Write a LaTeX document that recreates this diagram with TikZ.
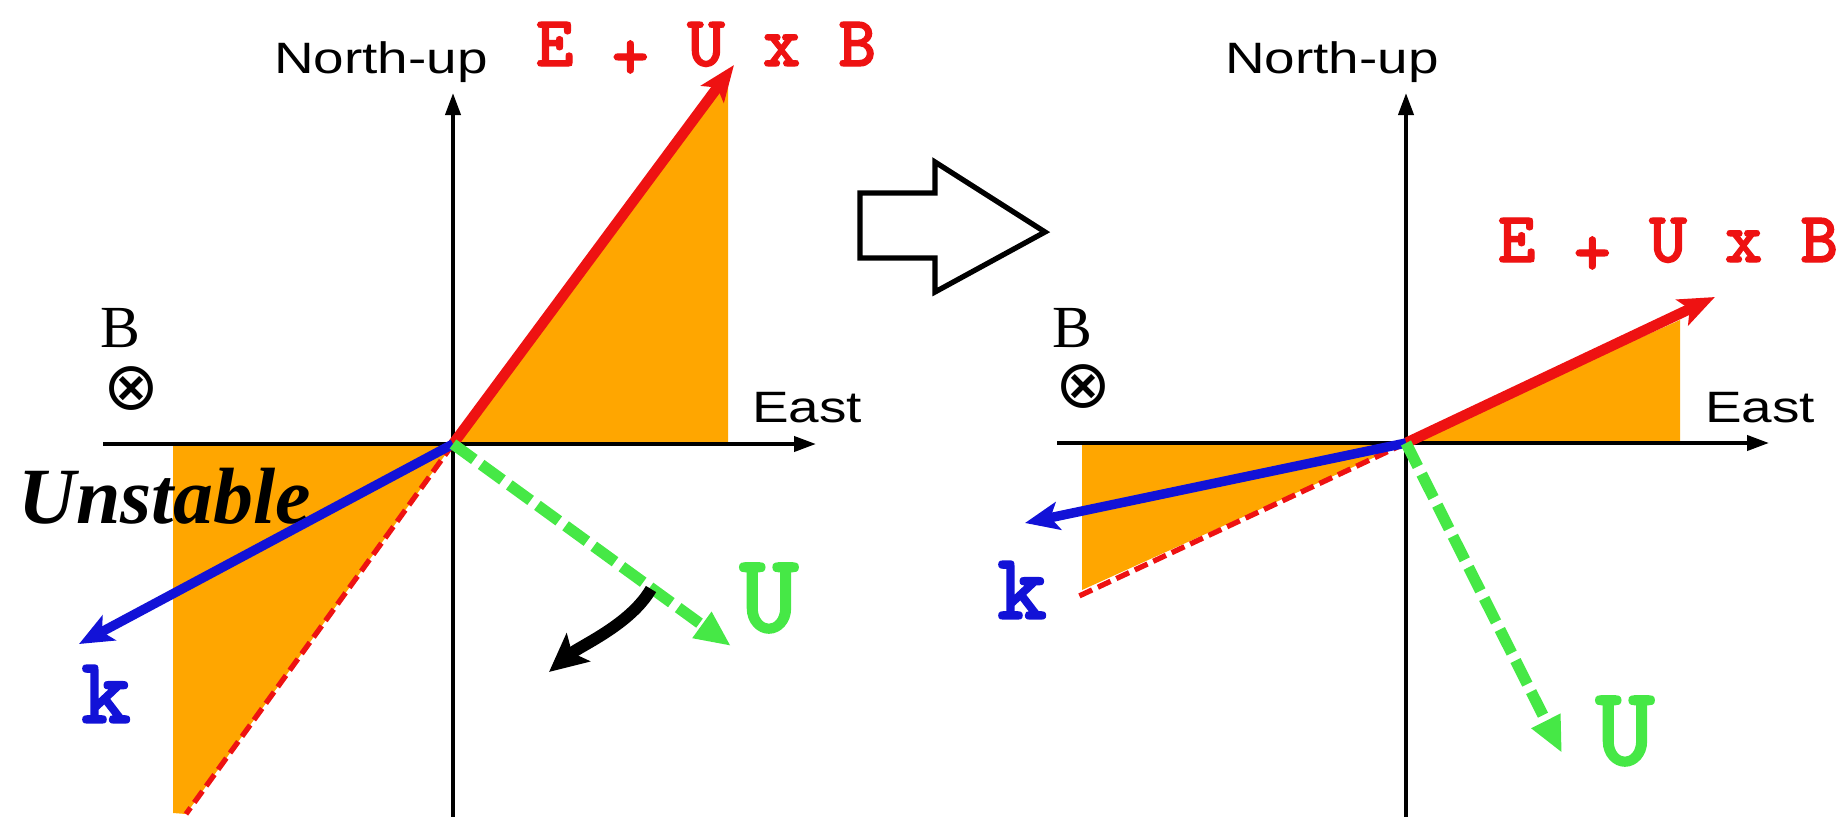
\documentclass[tikz,border=0pt]{standalone}
\usepackage{amsmath}
\usepackage{fontspec}
\setmainfont{Liberation Serif}
\newfontfamily\axisfont[FakeStretch=1.25]{Liberation Sans}
\newfontfamily\symfont{DejaVu Sans}
\newfontfamily\vecfont[FakeBold=1.5]{lmmonolt10-bold.otf}
\usepackage{tikz}
\usepackage{xcolor}
\usetikzlibrary{arrows.meta,positioning}

\definecolor{vred}{RGB}{238,18,18}
\definecolor{vorange}{RGB}{255,166,0}
\definecolor{vblue}{RGB}{18,18,215}
\definecolor{vgreen}{RGB}{70,232,70}

\begin{document}
\begin{tikzpicture}[
    axis/.style={line width=1.1pt, -{Triangle[length=2.2mm,width=1.5mm]}},
    efield/.style={draw=vred, line width=3pt, -{Stealth[length=3.6mm,width=2.8mm,inset=0.8mm]}},
    mirror/.style={draw=vred, line width=1.5pt, dash pattern=on 4pt off 1.8pt},
    wavevec/.style={draw=vblue, line width=2.7pt, -{Stealth[length=3.4mm,width=2.8mm,inset=0.8mm]}},
    wind/.style={draw=vgreen, line width=3.2pt, dash pattern=on 7.5pt off 2.4pt, -{Triangle[length=3.6mm,width=3mm]}},
    turn/.style={draw=black, line width=3.4pt, -{Stealth[length=3.8mm,width=3.6mm,inset=0.8mm]}},
    wedge/.style={fill=vorange},
    axlabel/.style={inner sep=0pt, anchor=base, font={\axisfont\fontsize{12.5}{14}\selectfont}},
    exblabel/.style={inner sep=0pt, anchor=base, text=vred, font={\vecfont\fontsize{20.5}{22}\selectfont}},
    blabel/.style={inner sep=0pt, anchor=base, font={\fontsize{17}{19}\selectfont}},
    bsym/.style={inner sep=0pt, font={\symfont\fontsize{19}{22}\selectfont}},
    klabel/.style={inner sep=0pt, text=vblue, font={\vecfont\fontsize{27}{30}\selectfont}},
    ulabel/.style={inner sep=0pt, text=vgreen, font={\vecfont\fontsize{32}{34}\selectfont}}
]
\useasboundingbox (0,0) rectangle (18.44,-8.17);

% Left panel: axes and vector ends
\coordinate (o_l) at (4.53,-4.44);
\coordinate (n_l) at (4.53,-0.93);
\coordinate (s_l) at (4.53,-8.17);
\coordinate (w_l) at (1.03,-4.44);
\coordinate (e_l) at (8.16,-4.44);
\coordinate (exb_l) at (7.34,-0.65);
\coordinate (mir_l) at (1.86,-8.14);
\coordinate (k_l) at (0.79,-6.44);
\coordinate (u_l) at (7.31,-6.46);
\coordinate (turn_a) at (6.51,-5.89);
\coordinate (turn_b) at (5.49,-6.72);

% Right panel: axes and vector ends
\coordinate (o_r) at (14.06,-4.43);
\coordinate (n_r) at (14.06,-0.93);
\coordinate (s_r) at (14.06,-8.17);
\coordinate (w_r) at (10.57,-4.43);
\coordinate (e_r) at (17.69,-4.43);
\coordinate (exb_r) at (17.15,-2.97);
\coordinate (mir_r) at (10.77,-5.97);
\coordinate (k_r) at (10.25,-5.23);
\coordinate (u_r) at (15.62,-7.53);

% Shaded wedges
\fill[wedge] (o_l) -- (7.28,-4.44) -- (7.28,-0.78) -- cycle;
\fill[wedge] (o_l) -- (1.73,-4.44) -- (1.73,-8.13) -- (1.86,-8.14) -- cycle;
\fill[wedge] (o_r) -- (16.80,-4.43) -- (16.80,-3.20) -- cycle;
\fill[wedge] (o_r) -- (10.82,-4.43) -- (10.82,-5.90) -- cycle;

% Axes
\draw[axis] (s_l) -- (n_l);
\draw[axis] (w_l) -- (e_l);
\draw[axis] (s_r) -- (n_r);
\draw[axis] (w_r) -- (e_r);

% Axis labels
\node[axlabel] (north_l) at (3.81,-0.73) {North-up};
\node[axlabel] (east_l) at (8.07,-4.22) {East};
\node[axlabel] (north_r) at (13.32,-0.73) {North-up};
\node[axlabel] (east_r) at (17.60,-4.22) {East};

% Magnetic field into the page
\node[blabel] (b_l) at (1.205,-3.47) {B};
\node[bsym] (bx_l) at (1.31,-3.89) {⊗};
\node[blabel] (b_r) at (10.72,-3.47) {B};
\node[bsym] (bx_r) at (10.83,-3.87) {⊗};

% Unstable label
\node[inner sep=0pt, anchor=base west, font={\bfseries\itshape\fontsize{22.7}{26}\selectfont}] (unstable) at (0.18,-5.23) {Unstable};

% Vectors
\draw[mirror] (o_l) -- (mir_l);
\draw[mirror] (o_r) -- (mir_r);
\draw[efield] (o_l) -- (exb_l);
\draw[efield] (o_r) -- (exb_r);
\draw[wavevec] (o_l) -- (k_l);
\draw[wavevec] (o_r) -- (k_r);
\draw[wind] (o_l) -- (u_l);
\draw[wind] (o_r) -- (u_r);
\draw[turn] (turn_a) to[out=240, in=40, looseness=0.8] (turn_b);

% Vector labels
\node[exblabel] (exb_lbl_l) at (7.06,-0.66) {E \raisebox{-0.13cm}{+} U x B};
\node[exblabel] (exb_lbl_r) at (16.68,-2.62) {E \raisebox{-0.13cm}{+} U x B};
\node[klabel] (k_lbl_l) at (1.06,-6.94) {k};
\node[klabel] (k_lbl_r) at (10.22,-5.90) {k};
\node[ulabel] (u_lbl_l) at (7.69,-5.98) {U};
\node[ulabel] (u_lbl_r) at (16.25,-7.31) {U};

% Transition arrow
\draw[line width=1.5pt, line join=miter] (8.60,-1.93) -- (9.35,-1.93) -- (9.35,-1.62) -- (10.45,-2.32) -- (9.35,-2.92) -- (9.35,-2.58) -- (8.60,-2.58) -- cycle;

\end{tikzpicture}
\end{document}
